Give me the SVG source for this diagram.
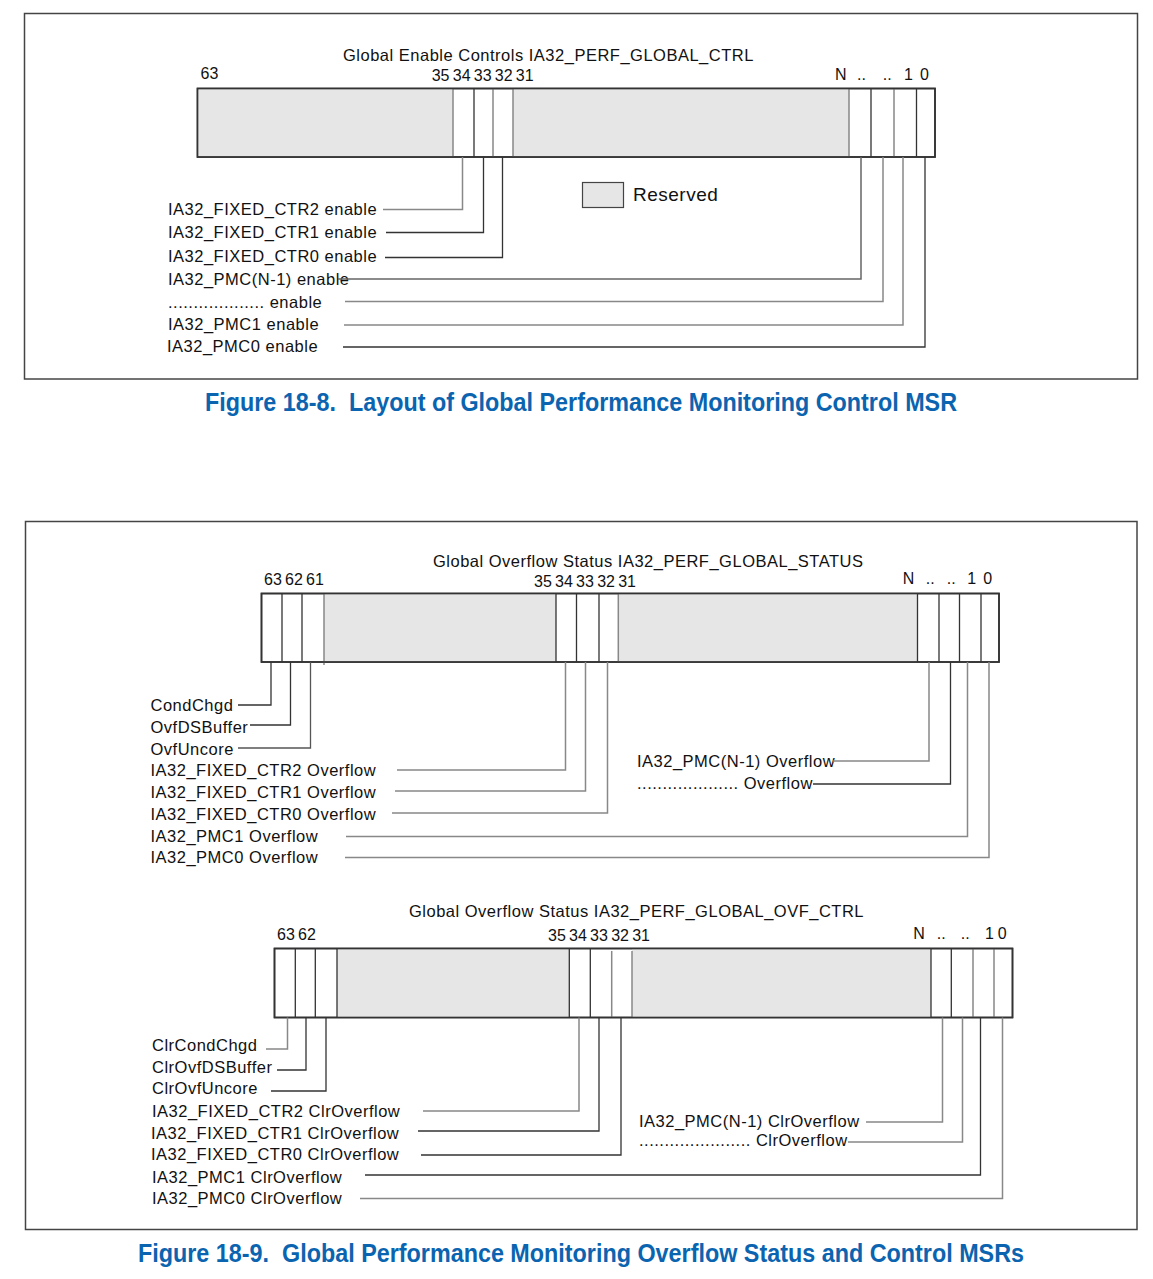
<svg xmlns="http://www.w3.org/2000/svg" width="1153" height="1279" viewBox="0 0 1153 1279">
<style>
.t{font-family:"Liberation Sans",Arial,sans-serif;font-size:16.5px;letter-spacing:0.5px;fill:#111}
.b{font-family:"Liberation Sans",Arial,sans-serif;font-size:16px;word-spacing:-1.2px;fill:#111}
.cap{font-family:"Liberation Sans Narrow","Liberation Sans",Arial,sans-serif;font-weight:bold;font-size:26px;fill:#0B64B0}
.frame{fill:none;stroke:#444;stroke-width:1.5}
.reg{fill:#fff;stroke:#333;stroke-width:1.6}
.outl{fill:none;stroke:#333;stroke-width:1.6}
.res{fill:#e6e6e6}
.d{stroke:#333;stroke-width:1.3;fill:none}
.g{stroke:#888;stroke-width:1.5;fill:none}
</style>
<rect width="1153" height="1279" fill="#fff"/>

<!-- Figure 18-8 -->
<g id="fig1">
<rect class="frame" x="24.5" y="13.5" width="1113" height="365.5"/>
<text class="t" x="343" y="61">Global Enable Controls IA32_PERF_GLOBAL_CTRL</text>
<g id="reg1">
<rect class="reg" x="197.5" y="88.5" width="737.5" height="68.5"/>
<rect class="res" x="198.3" y="89.3" width="254.7" height="67"/>
<rect class="res" x="513" y="89.3" width="336" height="67"/>
<path class="g" d="M453,88.5V157M493,88.5V157M513,88.5V157M849,88.5V157M894,88.5V157"/>
<path class="d" d="M474,88.5V157M871,88.5V157M916.5,88.5V157"/>
<rect class="outl" x="197.5" y="88.5" width="737.5" height="68.5"/>
</g>
<g id="bits1">
<text class="b" x="200.5" y="79">63</text>
<text class="b" x="431.7" y="80.5">35 34 33 32 31</text>
<text class="b" x="835" y="80">N</text>
<text class="b" x="857" y="80">..</text>
<text class="b" x="882.7" y="80">..</text>
<text class="b" x="904" y="80">1</text>
<text class="b" x="920" y="80">0</text>
</g>
<g id="legend1">
<rect x="582.5" y="182.5" width="41" height="25" fill="#e6e6e6" stroke="#444" stroke-width="1.2"/>
<text class="t" x="633" y="201" style="font-size:19px">Reserved</text>
</g>
<g id="labels1">
<text class="t" x="168" y="215">IA32_FIXED_CTR2 enable</text>
<text class="t" x="168" y="238">IA32_FIXED_CTR1 enable</text>
<text class="t" x="168" y="262">IA32_FIXED_CTR0 enable</text>
<text class="t" x="168" y="285">IA32_PMC(N-1) enable</text>
<text class="t" x="168" y="308">................... enable</text>
<text class="t" x="168" y="330">IA32_PMC1 enable</text>
<text class="t" x="167" y="352">IA32_PMC0 enable</text>
</g>
</g>
<g id="connectors1">
<path class="g" d="M462.5,157V209.5H383"/>
<path class="d" d="M483.5,157V232.5H386"/>
<path class="d" d="M502.5,157V257.5H385"/>
<path class="g" d="M861,157V279H338" style="stroke:#666"/>
<path class="g" d="M883,157V301.5H345"/>
<path class="g" d="M903,157V325H344"/>
<path class="d" d="M925,157V347H343"/>
</g>
<text class="cap" x="205" y="411" textLength="752" lengthAdjust="spacingAndGlyphs">Figure 18-8.&#160; Layout of Global Performance Monitoring Control MSR</text>

<!-- Figure 18-9 -->
<g id="fig2">
<rect class="frame" x="25.5" y="521.5" width="1111.5" height="708"/>
</g>

<g id="status">
<text class="t" x="433" y="567">Global Overflow Status IA32_PERF_GLOBAL_STATUS</text>
<g id="reg2">
<rect class="reg" x="261.5" y="593.5" width="737.5" height="68.5"/>
<rect class="res" x="324" y="594.3" width="232" height="67"/>
<rect class="res" x="618" y="594.3" width="299" height="67"/>
<path class="d" d="M282,593.5V662M302,593.5V662M556,593.5V662M576.5,593.5V662M599,593.5V662M917.5,593.5V662M939,593.5V662M959.5,593.5V662M981,593.5V662"/>
<path class="g" d="M324,593.5V665M618.3,593.5V662"/>
<rect class="outl" x="261.5" y="593.5" width="737.5" height="68.5"/>
</g>
<g id="bits2">
<text class="b" x="264" y="585">63 62 61</text>
<text class="b" x="534" y="587">35 34 33 32 31</text>
<text class="b" x="902.7" y="584">N</text>
<text class="b" x="925.7" y="584">..</text>
<text class="b" x="946.7" y="584">..</text>
<text class="b" x="967.3" y="584">1</text>
<text class="b" x="983.3" y="584">0</text>
</g>
<g id="labels2">
<text class="t" x="150.5" y="711">CondChgd</text>
<text class="t" x="150.5" y="733">OvfDSBuffer</text>
<text class="t" x="150.5" y="755">OvfUncore</text>
<text class="t" x="150.5" y="776">IA32_FIXED_CTR2 Overflow</text>
<text class="t" x="150.5" y="798">IA32_FIXED_CTR1 Overflow</text>
<text class="t" x="150.5" y="820">IA32_FIXED_CTR0 Overflow</text>
<text class="t" x="150.5" y="842">IA32_PMC1 Overflow</text>
<text class="t" x="150.5" y="863">IA32_PMC0 Overflow</text>
<text class="t" x="637" y="767">IA32_PMC(N-1) Overflow</text>
<text class="t" x="637" y="789">.................... Overflow</text>
</g>
</g>
<g id="connectors2">
<path class="d" d="M271,662V705H238"/>
<path class="d" d="M290.5,662V725H250"/>
<path class="d" d="M310.5,662V748H238" style="stroke:#555"/>
<path class="g" d="M565.5,662V770H397"/>
<path class="g" d="M585.5,662V791H395"/>
<path class="g" d="M607.5,662V813H392"/>
<path class="g" d="M929,662V761H833"/>
<path class="d" d="M950.5,662V784H813"/>
<path class="g" d="M967.5,662V836.5H346"/>
<path class="g" d="M989,662V857.5H345"/>
</g>

<g id="ovfctrl">
<text class="t" x="409" y="917">Global Overflow Status IA32_PERF_GLOBAL_OVF_CTRL</text>
<g id="reg3">
<rect class="reg" x="274.5" y="948.5" width="738" height="69"/>
<rect class="res" x="337" y="949.3" width="232.3" height="67.5"/>
<rect class="res" x="632" y="949.3" width="299" height="67.5"/>
<path class="d" d="M295.3,948.5V1017.5M315.3,948.5V1017.5M337,948.5V1017.5M569.3,948.5V1017.5M590.3,948.5V1017.5M931,948.5V1017.5M951.3,948.5V1017.5"/>
<path class="g" d="M611.7,951V1018M632,951V1018M973,948.5V1017.5M994,948.5V1017.5"/>
<rect class="outl" x="274.5" y="948.5" width="738" height="69"/>
</g>
<g id="bits3">
<text class="b" x="277" y="940">63 62</text>
<text class="b" x="548" y="941">35 34 33 32 31</text>
<text class="b" x="913.3" y="939">N</text>
<text class="b" x="936.7" y="939">..</text>
<text class="b" x="960.7" y="939">..</text>
<text class="b" x="985" y="939">1</text>
<text class="b" x="997.7" y="939">0</text>
</g>
<g id="labels3">
<text class="t" x="152" y="1051">ClrCondChgd</text>
<text class="t" x="152" y="1073">ClrOvfDSBuffer</text>
<text class="t" x="152" y="1094">ClrOvfUncore</text>
<text class="t" x="152" y="1117">IA32_FIXED_CTR2 ClrOverflow</text>
<text class="t" x="151" y="1139">IA32_FIXED_CTR1 ClrOverflow</text>
<text class="t" x="151" y="1160">IA32_FIXED_CTR0 ClrOverflow</text>
<text class="t" x="152" y="1183">IA32_PMC1 ClrOverflow</text>
<text class="t" x="152" y="1204">IA32_PMC0 ClrOverflow</text>
<text class="t" x="639" y="1127">IA32_PMC(N-1) ClrOverflow</text>
<text class="t" x="639" y="1146">...................... ClrOverflow</text>
</g>
</g>
<g id="connectors3">
<path class="g" d="M287.5,1017.5V1049H266"/>
<path class="d" d="M306,1017.5V1070H277"/>
<path class="d" d="M326,1017.5V1091H271"/>
<path class="g" d="M579,1017.5V1111H423"/>
<path class="d" d="M599,1017.5V1131H418"/>
<path class="d" d="M621,1017.5V1155H421"/>
<path class="g" d="M942.5,1017.5V1122H866"/>
<path class="g" d="M962.5,1017.5V1142H848"/>
<path class="d" d="M980.5,1017.5V1175H365"/>
<path class="g" d="M1002.5,1017.5V1198.5H360"/>
</g>
<text class="cap" x="138" y="1262" textLength="886" lengthAdjust="spacingAndGlyphs">Figure 18-9.&#160; Global Performance Monitoring Overflow Status and Control MSRs</text>
</svg>
